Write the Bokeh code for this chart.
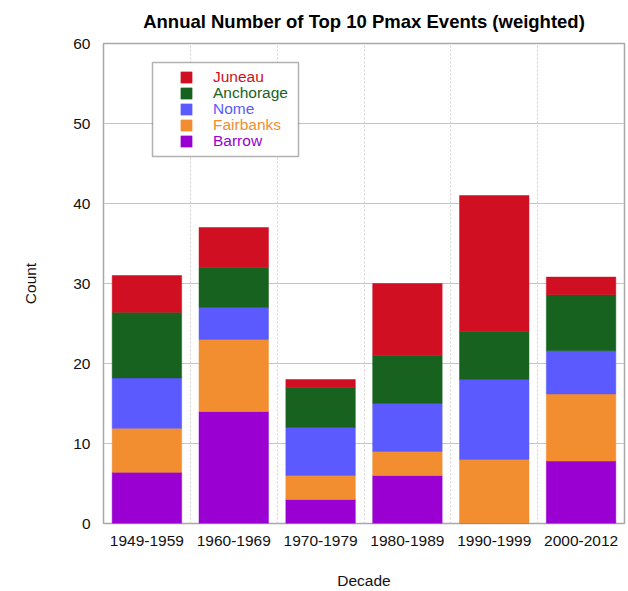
from bokeh.plotting import figure
from bokeh.models import (Range1d, FixedTicker, Legend, LegendItem, BoxAnnotation,
                          ColumnDataSource)
from bokeh.embed import file_html
from bokeh.resources import INLINE

# ---- data -------------------------------------------------------------
decades = ["1949-1959", "1960-1969", "1970-1979", "1980-1989", "1990-1999", "2000-2012"]
barrow = [6.4, 14, 3, 6, 0, 7.8]
fairbanks = [5.5, 9, 3, 3, 8, 8.4]
nome = [6.3, 4, 6, 6, 10, 5.4]
anchorage = [8.2, 5, 5, 6, 6, 7.0]
juneau = [4.6, 5, 1, 9, 17, 2.2]

stations = ["Barrow", "Fairbanks", "Nome", "Anchorage", "Juneau"]  # bottom -> top
colors = ["#9900d1", "#f28d30", "#5a5aff", "#17621f", "#d10f23"]
y_ticks = [0, 10, 20, 30, 40, 50, 60]
title_text = "Annual Number of Top 10 Pmax Events (weighted)"

# ---- figure -------------------------------------------------------------
FONT = "Liberation Sans"
n = len(decades)
xs = list(range(1, n + 1))
source = ColumnDataSource(dict(x=xs, Barrow=barrow, Fairbanks=fairbanks, Nome=nome,
                               Anchorage=anchorage, Juneau=juneau))

p = figure(width=628, height=591, output_backend="svg", toolbar_location=None,
           x_range=Range1d(0.5, n + 0.5), y_range=Range1d(0, 60), title=title_text)
p.min_border_left = 103
p.min_border_right = 4
p.min_border_top = 43
p.min_border_bottom = 68

p.title.align = "center"
p.title.vertical_align = "top"
p.title.text_font = FONT
p.title.text_font_size = "18.5px"
p.title.text_font_style = "bold"
p.title.text_color = "black"
p.title.standoff = 20

renderers = p.vbar_stack(stations, x="x", width=0.8, source=source,
                         fill_color=colors, line_color=colors, line_width=0.5)

# axes
p.xaxis.ticker = FixedTicker(ticks=xs)
p.xaxis.major_label_overrides = {x: d for x, d in zip(xs, decades)}
p.yaxis.ticker = FixedTicker(ticks=y_ticks)
for ax in (p.xaxis[0], p.yaxis[0]):
    ax.axis_line_color = None
    ax.major_tick_in = 0
    ax.major_tick_out = 0
    ax.minor_tick_line_color = None
    ax.major_label_text_font = FONT
    ax.major_label_text_font_size = "15.5px"
    ax.major_label_text_color = "#111111"
    ax.axis_label_text_font = FONT
    ax.axis_label_text_font_size = "15.5px"
    ax.axis_label_text_font_style = "normal"
    ax.axis_label_text_color = "#111111"
p.xaxis.axis_label = "Decade"
p.yaxis.axis_label = "Count"
p.xaxis.major_label_standoff = 12
p.xaxis.axis_label_standoff = 23
p.yaxis.major_label_standoff = 13
p.yaxis.axis_label_standoff = 31
p.yaxis.major_label_orientation = "horizontal"

# grid & frame
p.ygrid.grid_line_color = "#c4c4c4"
p.ygrid.grid_line_width = 1
p.xgrid.ticker = FixedTicker(ticks=[x + 0.5 for x in xs[:-1]])
p.xgrid.grid_line_color = "#d0d0d0"
p.xgrid.grid_line_dash = "2 2"
p.outline_line_color = "#a8a8a8"
p.outline_line_width = 1.5
p.background_fill_color = "white"

# legend box
box = BoxAnnotation(left=152, right=298, top=62, bottom=156,
                    left_units="canvas", right_units="canvas",
                    top_units="canvas", bottom_units="canvas",
                    fill_color="white", fill_alpha=1.0,
                    line_color="black", line_width=1.5)
p.add_layout(box)

# per-item legends (coloured labels), top to bottom
for i, idx in enumerate(reversed(range(len(stations)))):
    leg = Legend(items=[LegendItem(label=stations[idx], renderers=[renderers[idx]])],
                 location=(76, 437 - 16 * i), orientation="vertical",
                 border_line_color=None, background_fill_alpha=0,
                 padding=0, margin=0, spacing=0,
                 glyph_width=14, glyph_height=14, label_height=14,
                 label_standoff=20, label_text_color=colors[idx],
                 label_text_font=FONT, label_text_font_size="15.5px")
    p.add_layout(leg)

open("out.html", "w").write(file_html(p, INLINE))
